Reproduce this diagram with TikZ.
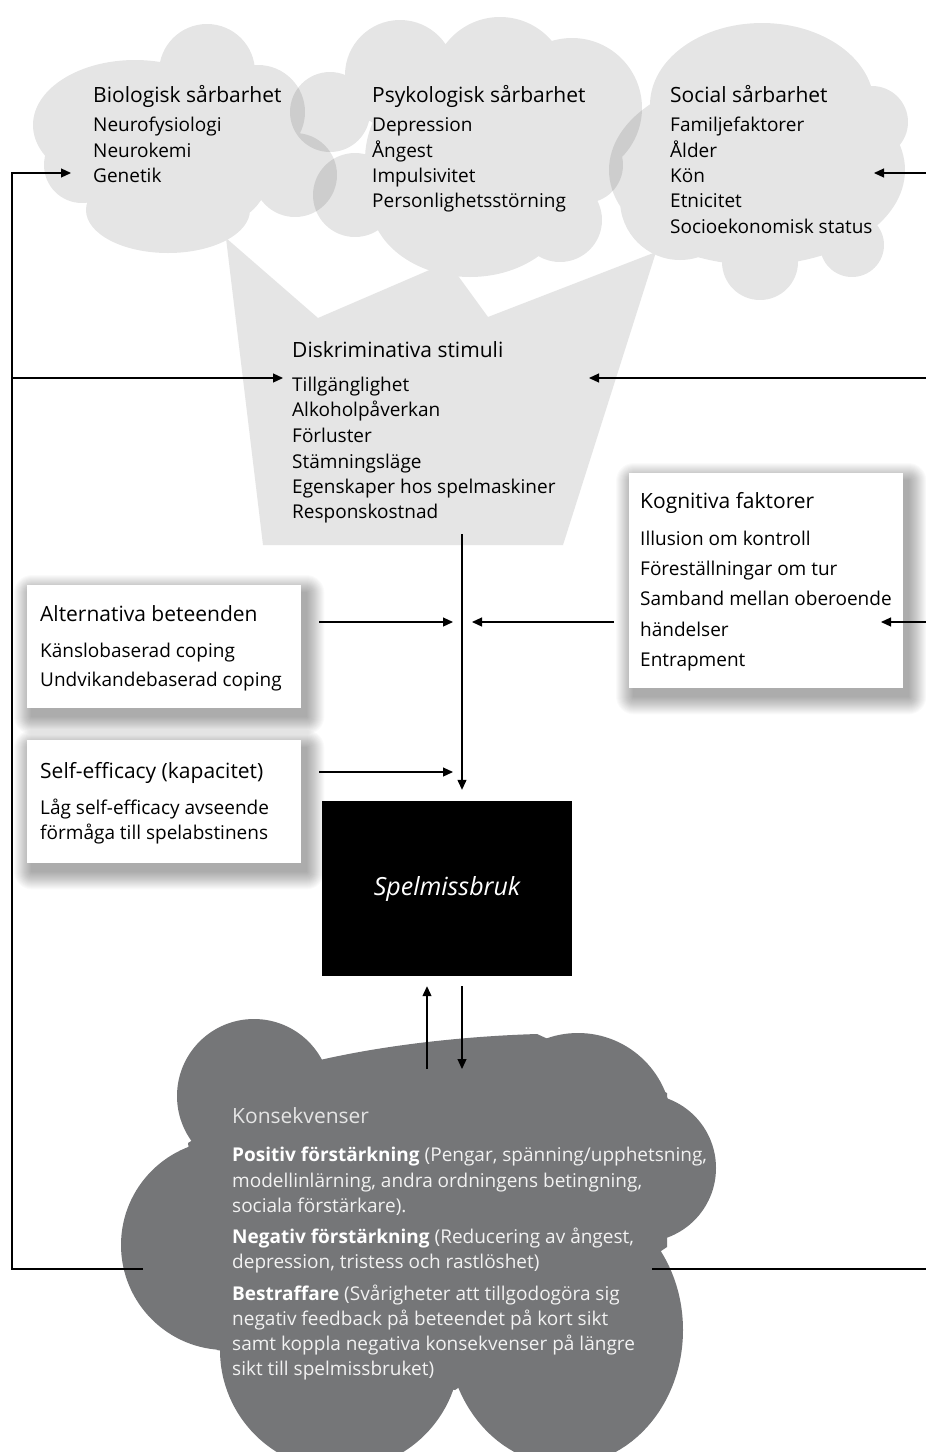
\documentclass[tikz,border=0pt]{standalone}
\usepackage{fontspec}
\setmainfont{Open Sans}
\usetikzlibrary{arrows.meta}
\definecolor{consgray}{RGB}{117,118,120}
\definecolor{lightcloud}{gray}{0.9}
\definecolor{constext}{gray}{0.95}
\definecolor{conshead}{gray}{0.9}
\begin{document}
\begin{tikzpicture}[x=1pt,y=-1pt,
  hd/.style={anchor=base west,inner sep=0pt,font=\fontsize{21}{24}\selectfont},
  it/.style={anchor=base west,inner sep=0pt,font=\fontsize{19}{22}\selectfont},
  ctext/.style={it,text=constext},
  chead/.style={hd,text=conshead},
  cloudfill/.style={fill=black,fill opacity=0.1},
  wbox/.style={inner sep=0pt,anchor=north west,minimum width=274pt},
  shadowlayer/.style={fill=black,fill opacity=0.018},
  arr/.style={line width=1.2pt,-{Triangle[length=10pt,width=9pt]}},
  ln/.style={line width=1.2pt},
]
\path[use as bounding box] (0,0) rectangle (926,1452);
\fill[white] (0,0) rectangle (926,1452);
\begin{scope}
\clip (0,0) rectangle (926,1452);
% --- top clouds (semi-transparent, overlaps darker)
\fill[cloudfill] (207,72) circle[radius=48] (135,125) ellipse[x radius=102,y radius=65]
  (82,165) circle[radius=38] (168,210) ellipse[x radius=82,y radius=43]
  (258,112) circle[radius=47] (295,175) circle[radius=42] (200,150) circle[radius=60]
  (215,170) circle[radius=55];
\fill[cloudfill] (330,112) circle[radius=40] (355,195) circle[radius=42] (400,75) circle[radius=55]
  (500,85) circle[radius=68] (572,108) circle[radius=70] (585,165) circle[radius=38]
  (560,220) circle[radius=42] (470,200) ellipse[x radius=100,y radius=77] (460,160) circle[radius=95];
\fill[cloudfill] (757,170) ellipse[x radius=148,y radius=95] (762,105) ellipse[x radius=112,y radius=82]
  (872,122) circle[radius=36] (852,245) circle[radius=32] (760,262) circle[radius=38]
  (680,200) circle[radius=60];
% --- trapezoid (discriminative stimuli)
\fill[lightcloud] (226,238) -- (318,318) -- (448,262) -- (488,317) -- (656,252) -- (563,545) -- (263,545) -- cycle;
% --- bottom cloud (consequences)
\fill[consgray] (188,1143) -- (320,1060) .. controls (390,1044) and (470,1036) .. (537,1034)
  -- (667,1093) -- (667,1247) -- (455,1390) -- (217,1350) -- cycle;
\fill[consgray] (254,1096) circle[radius=77];
\fill[consgray] (578,1127) circle[radius=94];
\fill[consgray] (642,1168) circle[radius=74];
\fill[consgray] (565,1330) ellipse[x radius=118,y radius=135];
\fill[consgray] (340,1350) circle[radius=120];
\fill[consgray] (226,1245) circle[radius=105];
\end{scope}

% --- boxes (placed first, then soft shadows, then white fill)
\path node[wbox,minimum height=215pt] (kog) at (629,473) {};
\path node[wbox,minimum height=123pt] (alt) at (27,585) {};
\path node[wbox,minimum height=123pt] (self) at (27,740) {};
\foreach \b in {kog,alt,self}{
  \foreach \k in {1,...,18}{
    \fill[shadowlayer,rounded corners=\k pt]
      ([shift={(5-\k,8-\k)}]\b.north west) rectangle ([shift={(5+\k,8+\k)}]\b.south east);
  }
}
\foreach \b in {kog,alt,self}{
  \fill[white] (\b.north west) rectangle (\b.south east);
}
\node[fill=black,inner sep=0pt,minimum width=250pt,minimum height=175pt,text=white,
  font=\fontsize{25}{28}\selectfont\itshape] (spel) at (447,888.5) {Spelmissbruk};

% --- connector end points
\coordinate (dsOut) at (462,534);
\coordinate (altOut) at (319,622);
\coordinate (altIn) at (453,622);
\coordinate (kogOut) at (614,622);
\coordinate (kogIn) at (472,622);
\coordinate (selfOut) at (319,772);
\coordinate (selfIn) at (453,772);
\coordinate (upStart) at (427,1069);
\coordinate (dnEnd) at (462,1069);
\coordinate (consL) at (143,1269);
\coordinate (lCorner) at (12,1269);
\coordinate (bioIn) at (71,173);
\coordinate (lMid) at (12,378);
\coordinate (dsInL) at (283,378);
\coordinate (consR) at (652,1269);
\coordinate (rEdge) at (926,1269);
\coordinate (rTop) at (926,173);
\coordinate (socIn) at (874,173);
\coordinate (rMid) at (926,378);
\coordinate (dsInR) at (589,378);
\coordinate (rKog) at (926,622);
\coordinate (kogInR) at (881,622);

% --- connectors
\draw[arr,shorten >=11pt] (dsOut) -- (dsOut |- spel.north);
\draw[arr] (altOut) -- (altIn);
\draw[arr] (kogOut) -- (kogIn);
\draw[arr] (selfOut) -- (selfIn);
\draw[arr,shorten >=10pt] (upStart) -- (upStart |- spel.south);
\draw[arr,shorten <=10pt] (dnEnd |- spel.south) -- (dnEnd);
\draw[arr] (consL) -- (lCorner) |- (bioIn);
\draw[arr] (lMid) -- (dsInL);
\draw[ln] (consR) -- (rEdge);
\draw[arr] (rTop) -- (socIn);
\draw[arr] (rMid) -- (dsInR);
\draw[arr] (rKog) -- (kogInR);

% --- texts: biological
\node[hd] (bioH) at (93,102) {Biologisk sårbarhet};
\node[it] (bio1) at (93,131) {Neurofysiologi};
\node[it] (bio2) at (93,157) {Neurokemi};
\node[it] (bio3) at (93,182) {Genetik};
% psychological
\node[hd] (psyH) at (372,102) {Psykologisk sårbarhet};
\node[it] (psy1) at (372,131) {Depression};
\node[it] (psy2) at (372,157) {Ångest};
\node[it] (psy3) at (372,182) {Impulsivitet};
\node[it] (psy4) at (372,207) {Personlighetsstörning};
% social
\node[hd] (socH) at (670,102) {Social sårbarhet};
\node[it] (soc1) at (670,131) {Familjefaktorer};
\node[it] (soc2) at (670,157) {Ålder};
\node[it] (soc3) at (670,182) {Kön};
\node[it] (soc4) at (670,207) {Etnicitet};
\node[it] (soc5) at (670,233) {Socioekonomisk status};
% discriminative stimuli
\node[hd] (dsH) at (292,357) {Diskriminativa stimuli};
\node[it] (ds1) at (292,391) {Tillgänglighet};
\node[it] (ds2) at (292,416) {Alkoholpåverkan};
\node[it] (ds3) at (292,442) {Förluster};
\node[it] (ds4) at (292,468) {Stämningsläge};
\node[it] (ds5) at (292,493) {Egenskaper hos spelmaskiner};
\node[it] (ds6) at (292,518) {Responskostnad};
% cognitive
\node[hd] (kogH) at (640,508) {Kognitiva faktorer};
\node[it] (kog1) at (640,545) {Illusion om kontroll};
\node[it] (kog2) at (640,575) {Föreställningar om tur};
\node[it] (kog3) at (640,605) {Samband mellan oberoende};
\node[it] (kog4) at (640,636) {händelser};
\node[it] (kog5) at (640,666) {Entrapment};
% alternative
\node[hd] (altH) at (40,621) {Alternativa beteenden};
\node[it] (alt1) at (40,657) {Känslobaserad coping};
\node[it] (alt2) at (40,686) {Undvikandebaserad coping};
% self-efficacy
\node[hd] (selfH) at (40,778) {Self-efficacy (kapacitet)};
\node[it] (self1) at (40,814) {Låg self-efficacy avseende};
\node[it] (self2) at (40,839) {förmåga till spelabstinens};
% consequences
\node[chead] (consH) at (232,1123) {Konsekvenser};
\node[ctext] (c1) at (232,1161) {\textbf{\color{white}Positiv förstärkning} (Pengar, spänning/upphetsning,};
\node[ctext] (c2) at (232,1187) {modellinlärning, andra ordningens betingning,};
\node[ctext] (c3) at (232,1212) {sociala förstärkare).};
\node[ctext] (c4) at (232,1243) {\textbf{\color{white}Negativ förstärkning} (Reducering av ångest,};
\node[ctext] (c5) at (232,1268) {depression, tristess och rastlöshet)};
\node[ctext] (c6) at (232,1300) {\textbf{\color{white}Bestraffare} (Svårigheter att tillgodogöra sig};
\node[ctext] (c7) at (232,1325) {negativ feedback på beteendet på kort sikt};
\node[ctext] (c8) at (232,1350) {samt koppla negativa konsekvenser på längre};
\node[ctext] (c9) at (232,1375) {sikt till spelmissbruket)};
\end{tikzpicture}
\end{document}
